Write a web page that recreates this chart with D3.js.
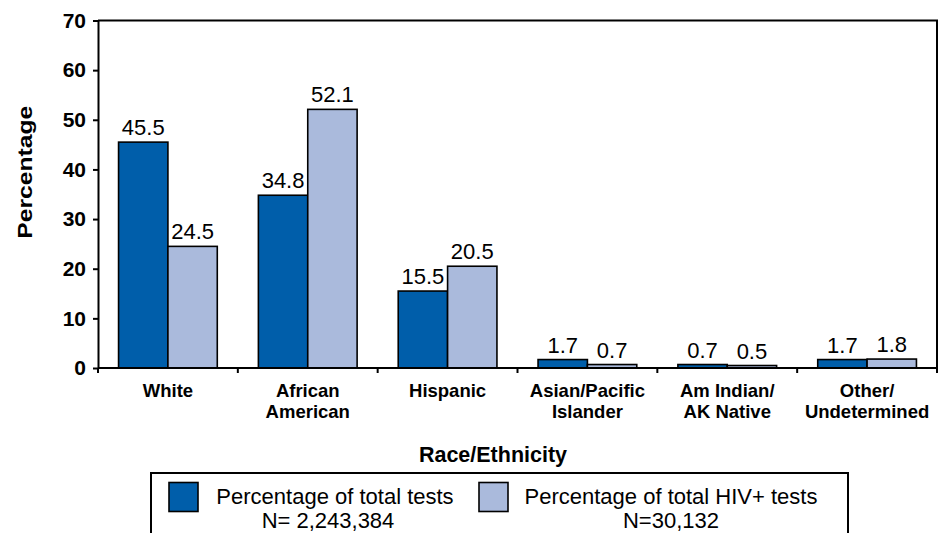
<!DOCTYPE html>
<html>
<head>
<meta charset="utf-8">
<script src="https://cdn.jsdelivr.net/npm/d3@7"></script>
<style>
   body { margin: 0; background: #fff; }
   svg { display: block; font-family: 'Liberation Sans', Arial, sans-serif; }
   .y.axis text { font-size: 21px; font-weight: bold; fill: #000; }
   .y.axis line, .y.axis path { stroke: #000; stroke-width: 2px; }
   .x.axis text { font-size: 18.5px; font-weight: bold; fill: #000; }
   .value-label { font-size: 22px; fill: #000; text-anchor: middle; }
   .legend-text { font-size: 22px; fill: #000; text-anchor: middle; }
</style>
</head>
<body>
<div class="bar-chart-container"></div>
<script>
const categories = ['White', 'African American', 'Hispanic', 'Asian/Pacific Islander', 'Am Indian/ AK Native', 'Other/ Undetermined'];
const category_lines = [['White'], ['African', 'American'], ['Hispanic'], ['Asian/Pacific', 'Islander'], ['Am Indian/', 'AK Native'], ['Other/', 'Undetermined']];
const series_names = ['Percentage of total tests', 'Percentage of total HIV+ tests'];
const series_counts = ['N= 2,243,384', 'N=30,132'];
const total_tests = [45.5, 34.8, 15.5, 1.7, 0.7, 1.7];
const hiv_positive = [24.5, 52.1, 20.5, 0.7, 0.5, 1.8];
const y_ticks = [0, 10, 20, 30, 40, 50, 60, 70];
const colors = ['#005eaa', '#aabadc'];

function build_graph(width, height, margin) {
   return d3.select('.bar-chart-container')
      .append('svg')
      .attr('width', width + margin.left + margin.right)
      .attr('height', height + margin.top + margin.bottom)
      .append('g')
      .attr('transform', `translate(${margin.left}, ${margin.top})`);
}

function draw_frame(chart, width, height) {
   // top and right edges of the plot area
   chart.append('path')
      .attr('d', `M0,0H${width}V${height + 5}`)
      .attr('fill', 'none')
      .attr('stroke', '#000')
      .attr('stroke-width', 2);
}

function draw_bars(chart, xScale, seriesScale, yScale) {
   const rows = categories.map((c, i) => ({
      genre: c,
      values: [total_tests[i], hiv_positive[i]]
   }));
   const groups = chart.selectAll('.group')
      .data(rows)
      .enter()
      .append('g')
      .attr('class', 'group')
      .attr('transform', d => `translate(${xScale(d.genre)}, 0)`);

   groups.selectAll('rect')
      .data(d => d.values.map((v, k) => ({ k, v })))
      .enter()
      .append('rect')
      .attr('x', d => seriesScale(d.k))
      .attr('y', d => yScale(d.v))
      .attr('width', seriesScale.bandwidth())
      .attr('height', d => yScale(0) - yScale(d.v))
      .style('fill', d => colors[d.k])
      .style('stroke', '#000')
      .style('stroke-width', 1.6);

   groups.selectAll('.value-label')
      .data(d => d.values.map((v, k) => ({ k, v })))
      .enter()
      .append('text')
      .attr('class', 'value-label')
      .attr('x', d => seriesScale(d.k) + seriesScale.bandwidth() / 2)
      .attr('y', d => yScale(d.v) - 7)
      .text(d => d.v.toFixed(1));
}

function create_y_axis(yScale, chart) {
   const yAxis = d3.axisLeft(yScale)
      .tickValues(y_ticks)
      .tickSizeInner(5)
      .tickSizeOuter(0)
      .tickPadding(7);
   chart.append('g')
      .attr('class', 'y axis')
      .call(yAxis);
}

function create_x_axis(xScale, chart, width, height) {
   const axis = chart.append('g')
      .attr('class', 'x axis')
      .attr('transform', `translate(0, ${height})`);

   axis.append('line')
      .attr('x1', 0).attr('x2', width)
      .attr('stroke', '#000').attr('stroke-width', 2);

   // tick marks sit on the category boundaries
   const bounds = categories.map(c => xScale(c)).concat([width]);
   axis.selectAll('.bound')
      .data(bounds)
      .enter()
      .append('line')
      .attr('class', 'bound')
      .attr('x1', d => d).attr('x2', d => d)
      .attr('y1', 0).attr('y2', 5)
      .attr('stroke', '#000').attr('stroke-width', 2);

   const labels = axis.selectAll('.cat')
      .data(categories)
      .enter()
      .append('text')
      .attr('class', 'cat')
      .attr('text-anchor', 'middle')
      .attr('x', d => xScale(d) + xScale.bandwidth() / 2)
      .attr('y', 29);
   labels.selectAll('tspan')
      .data((d, i) => category_lines[i])
      .enter()
      .append('tspan')
      .attr('x', function() { return this.parentNode.getAttribute('x'); })
      .attr('dy', (d, i) => i === 0 ? 0 : 21)
      .text(d => d);
}

function draw_titles(chart, height) {
   chart.append('text')
      .attr('transform', `translate(-66, ${height / 2 - 22}) rotate(-90)`)
      .attr('text-anchor', 'middle')
      .style('font-size', '20px')
      .style('font-weight', 'bold')
      .attr('textLength', 133)
      .attr('lengthAdjust', 'spacingAndGlyphs')
      .text('Percentage');

   chart.append('text')
      .attr('x', 395)
      .attr('y', height + 94)
      .attr('text-anchor', 'middle')
      .style('font-size', '21.5px')
      .style('font-weight', 'bold')
      .text('Race/Ethnicity');
}

function draw_legend(chart) {
   const legend = chart.append('g').attr('transform', 'translate(53, 452.5)');
   legend.append('rect')
      .attr('width', 697).attr('height', 90)
      .attr('fill', 'none')
      .attr('stroke', '#000').attr('stroke-width', 2);

   const swatch_x = [18, 328];
   const text_x = [184, 520];
   const items = legend.selectAll('.item')
      .data(series_names)
      .enter()
      .append('g')
      .attr('class', 'item');
   items.append('rect')
      .attr('x', (d, i) => swatch_x[i])
      .attr('y', 9.5)
      .attr('width', 29).attr('height', 29)
      .style('fill', (d, i) => colors[i])
      .style('stroke', '#000').style('stroke-width', 1.6);
   items.append('text')
      .attr('class', 'legend-text')
      .attr('x', (d, i) => text_x[i])
      .attr('y', 31)
      .text(d => d);
   items.append('text')
      .attr('class', 'legend-text')
      .attr('x', (d, i) => text_x[i] - (i === 0 ? 7 : 0))
      .attr('y', 55)
      .text((d, i) => series_counts[i]);
}

function build_chart() {
   const margin = {top: 20.5, bottom: 165, left: 98, right: 10};
   const width = 839;
   const height = 347.5;

   const xScale = d3.scaleBand()
      .domain(categories)
      .range([0, width]);
   const step = xScale.bandwidth();
   const seriesScale = d3.scaleBand()
      .domain([0, 1])
      .range([step * 0.147, step * 0.853]);
   const yScale = d3.scaleLinear()
      .domain([0, 70])
      .range([height, 0]);

   const chart = build_graph(width, height, margin);
   draw_frame(chart, width, height);
   draw_bars(chart, xScale, seriesScale, yScale);
   create_y_axis(yScale, chart);
   create_x_axis(xScale, chart, width, height);
   draw_titles(chart, height);
   draw_legend(chart);
}

build_chart();
</script>
</body>
</html>
